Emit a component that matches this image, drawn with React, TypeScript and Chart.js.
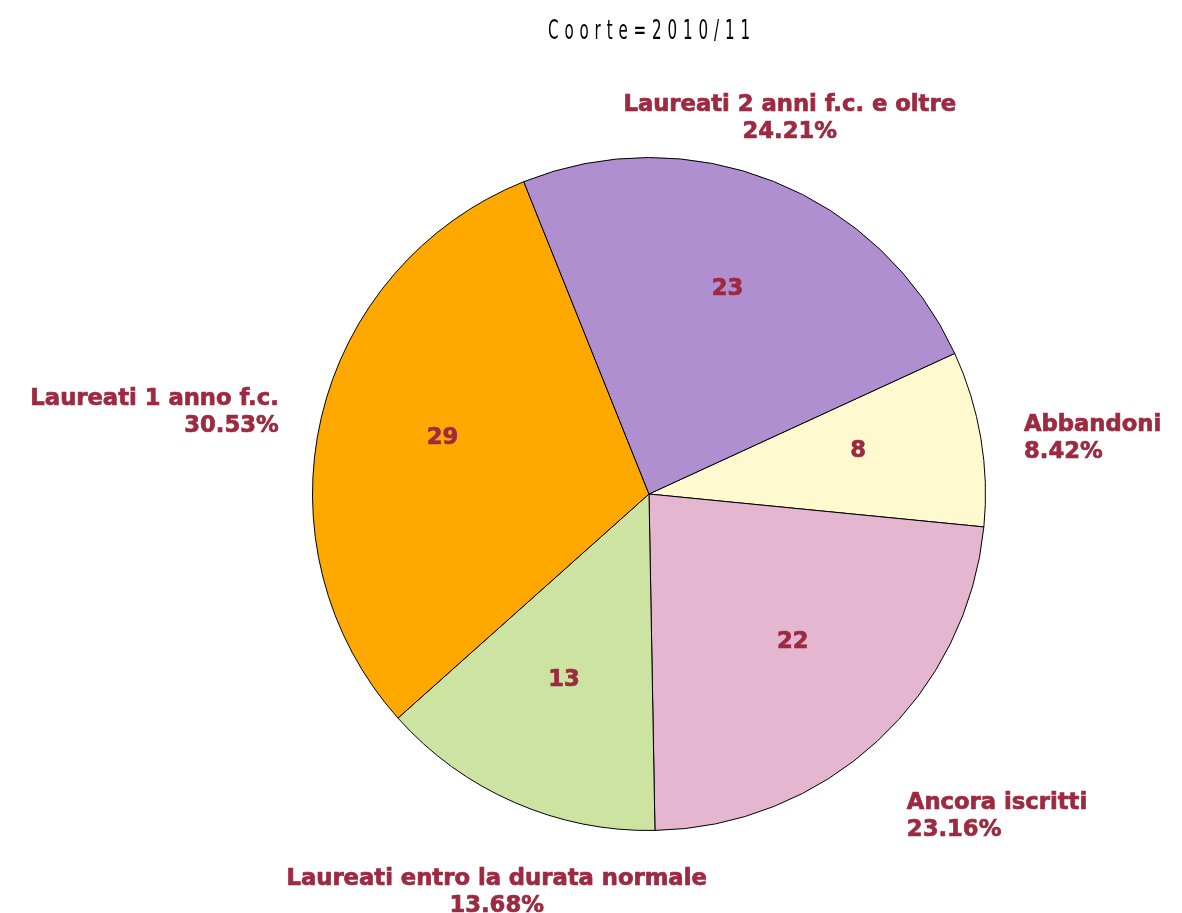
import React, { useEffect, useRef } from "react";
import { Chart, registerables } from "chart.js";

Chart.register(...registerables);

const TITLE = "Coorte=2010/11";
const categories = [
  "Abbandoni",
  "Ancora iscritti",
  "Laureati entro la durata normale",
  "Laureati 1 anno f.c.",
  "Laureati 2 anni f.c. e oltre",
];
const counts = [8, 22, 13, 29, 23];
const sliceColors = ["#FFF9D0", "#E5B6D0", "#CDE3A1", "#FFA800", "#B08FD0"];
const LABEL_COLOR = "#9C2A40";

function drawBold(ctx: CanvasRenderingContext2D, text: string, x: number, y: number) {
  ctx.fillText(text, x, y);
  ctx.strokeText(text, x, y);
}

const labelPlugin = {
  id: "pieLabels",
  afterDatasetsDraw(chart: any) {
    const ctx = chart.ctx as CanvasRenderingContext2D;
    const meta = chart.getDatasetMeta(0);
    const total = counts.reduce((a, b) => a + b, 0);
    ctx.save();
    ctx.fillStyle = LABEL_COLOR;
    ctx.strokeStyle = LABEL_COLOR;
    ctx.lineWidth = 0.7;
    ctx.font = "bold 22.7px 'DejaVu Sans', Verdana, sans-serif";
    ctx.textBaseline = "middle";
    meta.data.forEach((arc: any, i: number) => {
      const { x, y, startAngle, endAngle, outerRadius } = arc.getProps(
        ["x", "y", "startAngle", "endAngle", "outerRadius"],
        true
      );
      const mid = (startAngle + endAngle) / 2;
      const c = Math.cos(mid);
      const s = Math.sin(mid);
      ctx.textAlign = "center";
      drawBold(ctx, String(counts[i]), x + 0.63 * outerRadius * c, y + 0.63 * outerRadius * s - 8);
      const lx = x + 1.13 * outerRadius * c;
      const ly = y + 1.246 * outerRadius * s + 14;
      ctx.textAlign = c > 0.5 ? "left" : c < -0.5 ? "right" : "center";
      const pct = ((counts[i] / total) * 100).toFixed(2) + "%";
      drawBold(ctx, categories[i], lx, ly - 13.5);
      drawBold(ctx, pct, lx, ly + 13.5);
    });
    ctx.restore();
  },
};

const titlePlugin = {
  id: "spacedTitle",
  afterDraw(chart: any) {
    const ctx = chart.ctx as CanvasRenderingContext2D;
    ctx.save();
    ctx.fillStyle = "#000";
    ctx.font = "400 27px 'DejaVu Sans', sans-serif";
    ctx.textBaseline = "alphabetic";
    ctx.textAlign = "left";
    const squeeze = 0.56;
    const chars = TITLE.split("");
    const widths = chars.map((ch) => ctx.measureText(ch).width * squeeze);
    const sumW = widths.reduce((a, b) => a + b, 0);
    const targetWidth = 202;
    const gap = (targetWidth - sumW) / (chars.length - 1);
    const cx = (chart.chartArea.left + chart.chartArea.right) / 2;
    let px = cx - targetWidth / 2;
    chars.forEach((ch, i) => {
      ctx.save();
      ctx.translate(px, 39);
      ctx.scale(squeeze, 1);
      ctx.fillText(ch, 0, 0);
      ctx.restore();
      px += widths[i] + gap;
    });
    ctx.restore();
  },
};

export default function App() {
  const ref = useRef<HTMLCanvasElement>(null);
  useEffect(() => {
    if (!ref.current) return;
    const chart = new Chart(ref.current, {
      type: "pie",
      data: {
        labels: categories,
        datasets: [
          {
            data: counts,
            backgroundColor: sliceColors,
            borderColor: "#000",
            borderWidth: 1,
          },
        ],
      },
      options: {
        animation: false,
        responsive: true,
        maintainAspectRatio: false,
        rotation: 65.3,
        layout: { padding: { top: 157, bottom: 82, left: 312, right: 196 } },
        plugins: {
          legend: { display: false },
          title: { display: false },
          tooltip: { enabled: false },
        },
      },
      plugins: [labelPlugin, titlePlugin],
    });
    return () => chart.destroy();
  }, []);
  return (
    <div style={{ position: "fixed", left: 0, top: 0, width: 1182, height: 913, background: "#fff" }}>
      <canvas ref={ref} />
    </div>
  );
}
